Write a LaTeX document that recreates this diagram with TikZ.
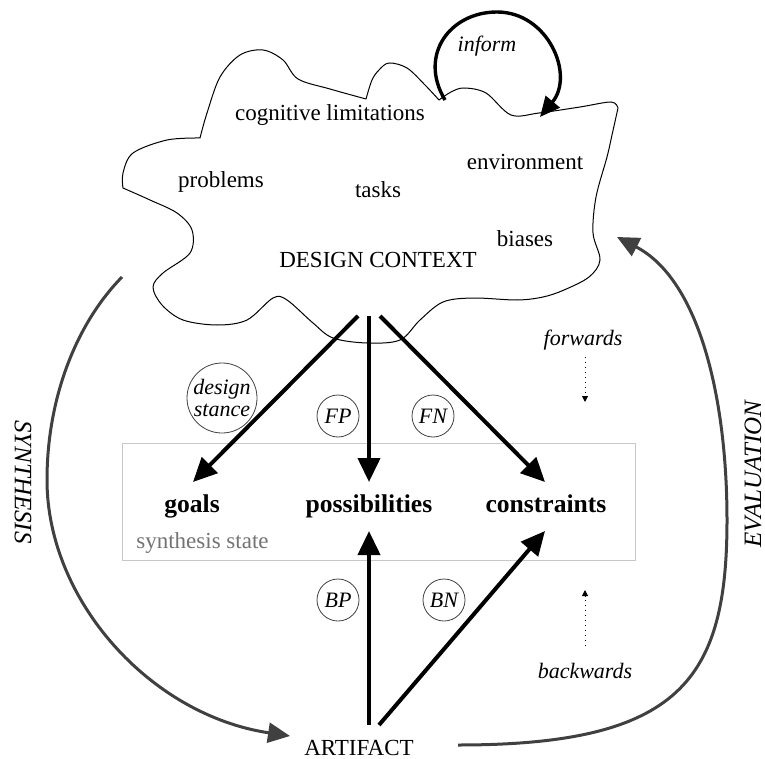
\documentclass[tikz,border=0pt]{standalone}
\usepackage{fontspec}
\setmainfont{Liberation Serif}
\usetikzlibrary{arrows.meta}

\begin{document}
\begin{tikzpicture}[x=0.5pt,y=-0.5pt,
  every node/.style={font=\fontsize{11.5}{13}\selectfont, inner sep=0pt},
  ctx/.style={anchor=base},
  note/.style={anchor=base, font=\fontsize{11}{13}\selectfont\itshape},
  part/.style={anchor=base, font=\fontsize{12.8}{14}\selectfont\bfseries},
  badge/.style={circle, draw=black!75, line width=0.4pt, minimum size=21pt,
    font=\fontsize{11}{11}\selectfont\itshape, align=center},
  bigarrow/.style={line width=2pt, -{Triangle[length=12pt,width=11pt]}},
  looparrow/.style={line width=1.7pt, -{Triangle[length=10pt,width=9pt]}},
  cyclearrow/.style={line width=1.5pt, draw=black!75, -{Triangle[length=11pt,width=10pt]}},
  hintarrow/.style={line width=0.5pt, dotted, -{Triangle[length=3pt,width=3pt]}},
  phase/.style={font=\fontsize{12.5}{14}\selectfont\itshape},
]

\useasboundingbox (0,0) rectangle (765,759);

% the design context cloud
\draw[line width=0.5pt, line join=round]
  plot[smooth, tension=0.55] coordinates {(123,188) (123,173) (133,153) (167,140) (200,138)}
  -- plot[smooth, tension=0.55] coordinates {(200,138) (207,113) (220,77) (240,55) (263,50) (283,60) (298,79) (330,89) (366,99)}
  -- plot[smooth, tension=0.55] coordinates {(366,99) (372,80) (379,70) (389,63) (407,68) (425,85) (439,100)}
  -- plot[smooth, tension=0.55] coordinates {(439,100) (451,92) (464,88) (486,93) (511,115) (539,113) (580,107) (611,102) (618,108)}
  -- plot[smooth, tension=0.55] coordinates {(618,108) (612,135) (607,157) (596,197) (593,233) (600,260) (589,277) (564,290) (543,297) (517,300) (473,298) (443,302) (420,320) (400,340) (367,343) (333,338) (313,323) (287,300) (273,298) (247,320) (217,325) (183,320) (162,305) (153,287) (163,273) (190,253) (192,230) (177,213) (150,200) (123,188)}
  -- cycle;

% contents of the context
\node[note] (inform) at (487,52) {inform};
\node[ctx] (cogn) at (330,121) {cognitive limitations};
\node[ctx] (probl) at (221,188) {problems};
\node[ctx] (tasks) at (378,198) {tasks};
\node[ctx] (envir) at (525,170) {environment};
\node[ctx] (biases) at (525,247) {biases};
\node[ctx] (context) at (378,267) {DESIGN CONTEXT};

% synthesis state box
\node[draw=black!22, line width=0.5pt, minimum width=256.5pt, minimum height=58.5pt]
  (state) at (378.5,501.5) {};
\node[anchor=base west, text=black!55] (statelabel) at (136,548) {synthesis state};
\node[part] (goals) at (192,512) {goals};
\node[part] (poss) at (369,512) {possibilities};
\node[part] (cons) at (546,512) {constraints};

% labelled influences
\node[badge, minimum size=35pt] (stance) at (222,398) {design\\stance};
\node[badge] (fp) at (338,416) {FP};
\node[badge] (fn) at (433,416) {FN};
\node[badge] (bp) at (338,600) {BP};
\node[badge] (bn) at (444,600) {BN};

\node[note] (fwd) at (583,345) {forwards};
\node[note] (bwd) at (585,678) {backwards};
\node[ctx] (artifact) at (359,755) {ARTIFACT};
\node[phase, rotate=-90] (synth) at (23,482) {SYNTHESIS};
\node[phase, rotate=90] (evalu) at (753,474) {EVALUATION};

% arrow end points
\coordinate (ctxL) at (358,316);
\coordinate (ctxM) at (369,316);
\coordinate (ctxR) at (380,316);
\coordinate (goalsIn) at (193,482);
\coordinate (possIn) at (369,482);
\coordinate (consIn) at (545,482);
\coordinate (possOut) at (369,531);
\coordinate (consOut) at (545,531);
\coordinate (artM) at (369,725);
\coordinate (artR) at (379,725);
\coordinate (loopA) at (445,100);
\coordinate (loopB) at (540,117);
\coordinate (synA) at (122,277);
\coordinate (synB) at (290,736);
\coordinate (evA) at (458,745);
\coordinate (evB) at (617,237);
\coordinate (fwdA) at (585,357);
\coordinate (fwdB) at (585,402);
\coordinate (bwdA) at (585,646);
\coordinate (bwdB) at (585,590);

% forward and backward arrows
\draw[bigarrow] (ctxL) -- (goalsIn);
\draw[bigarrow] (ctxM) -- (possIn);
\draw[bigarrow] (ctxR) -- (consIn);
\draw[bigarrow] (artM) -- (possOut);
\draw[bigarrow] (artR) -- (consOut);

\draw[hintarrow] (fwdA) -- (fwdB);
\draw[hintarrow] (bwdA) -- (bwdB);

% self-informing loop
\draw[looparrow] (loopA) .. controls (418,55) and (450,12) .. (497,12)
  .. controls (548,12) and (575,75) .. (loopB);

% synthesis and evaluation cycle
\draw[cyclearrow] (synA) .. controls (75,325) and (47,400) .. (47,480)
  .. controls (47,600) and (150,715) .. (synB);
\draw[cyclearrow] (evA) .. controls (680,745) and (727,680) .. (727,520)
  .. controls (727,400) and (700,280) .. (evB);

\end{tikzpicture}
\end{document}
